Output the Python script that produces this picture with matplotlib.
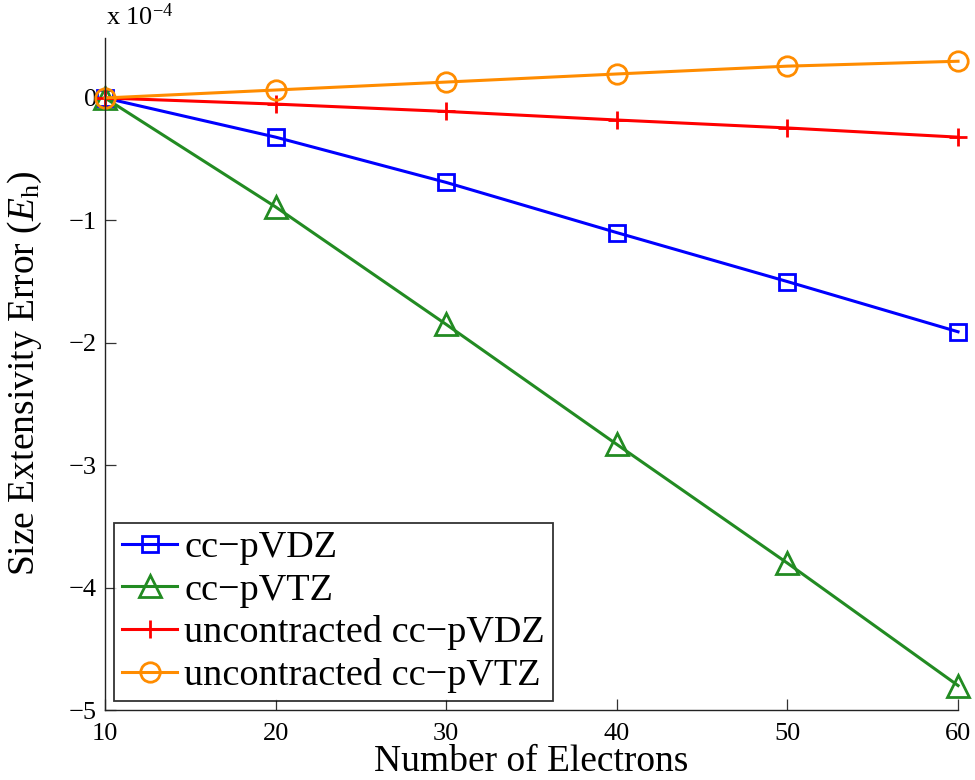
import matplotlib
matplotlib.use("Agg")
import matplotlib.pyplot as plt

plt.rcParams['font.family'] = ['Liberation Serif', 'DejaVu Serif']
plt.rcParams['mathtext.fontset'] = 'custom'
plt.rcParams['mathtext.rm'] = 'Liberation Serif'
plt.rcParams['mathtext.it'] = 'Liberation Serif:italic'

electrons = [10, 20, 30, 40, 50, 60]
cc_pvdz = [0.0, -0.32, -0.69, -1.10, -1.50, -1.91]
cc_pvtz = [0.0, -0.89, -1.85, -2.83, -3.80, -4.80]
unc_pvdz = [0.0, -0.05, -0.11, -0.18, -0.245, -0.32]
unc_pvtz = [0.0, 0.065, 0.13, 0.196, 0.26, 0.30]
labels = ['cc\u2212pVDZ', 'cc\u2212pVTZ', 'uncontracted cc\u2212pVDZ', 'uncontracted cc\u2212pVTZ']

fig = plt.figure(figsize=(9.75, 7.8), dpi=100)
ax = fig.add_axes([0.1077, 0.0897, 0.8749, 0.8616])

lw = 2.2
common = dict(lw=lw, mew=2.0, clip_on=False)
ax.plot(electrons, cc_pvdz, color='#0000ff', marker='s', ms=11, mfc='none', label=labels[0], **common)
ax.plot(electrons, cc_pvtz, color='#228b22', marker='^', ms=16, mfc='none', label=labels[1], **common)
ax.plot(electrons, unc_pvdz, color='#ff0000', marker='+', ms=13, label=labels[2], **common)
ax.plot(electrons, unc_pvtz, color='#ff8c00', marker='o', ms=14, mfc='none', label=labels[3], **common)

ax.set_xlim(10, 60)
ax.set_ylim(-5, 0.49)
ax.set_xticks([10, 20, 30, 40, 50, 60])
ax.set_yticks([0, -1, -2, -3, -4, -5])
ax.set_yticklabels(['0', '\u22121', '\u22122', '\u22123', '\u22124', '\u22125'])
ax.spines['top'].set_visible(False)
ax.spines['right'].set_visible(False)
for s in ['left', 'bottom']:
    ax.spines[s].set_color('#222222')
    ax.spines[s].set_linewidth(1.0)
ax.tick_params(direction='in', length=8, width=0.9, color='#333333', labelsize=19)
ax.tick_params(axis='x', pad=9)
ax.tick_params(axis='y', pad=6)

ax.set_xlabel('Number of Electrons', fontsize=27, labelpad=0)
ax.set_ylabel(r'Size Extensivity Error ($E_\mathrm{h}$)', fontsize=27, labelpad=18)

fig.text(0.109, 0.962, r'x 10$^{-4}$', fontsize=19, ha='left', va='bottom')

leg = ax.legend(loc='lower left', bbox_to_anchor=(0.011, 0.014), fontsize=27.5, frameon=True,
                fancybox=False, edgecolor='black', handlelength=1.45, handletextpad=0.18,
                borderpad=0.2, labelspacing=0.2, borderaxespad=0.0)
leg.get_frame().set_linewidth(1.3)

fig.savefig('out.png', dpi=100)
